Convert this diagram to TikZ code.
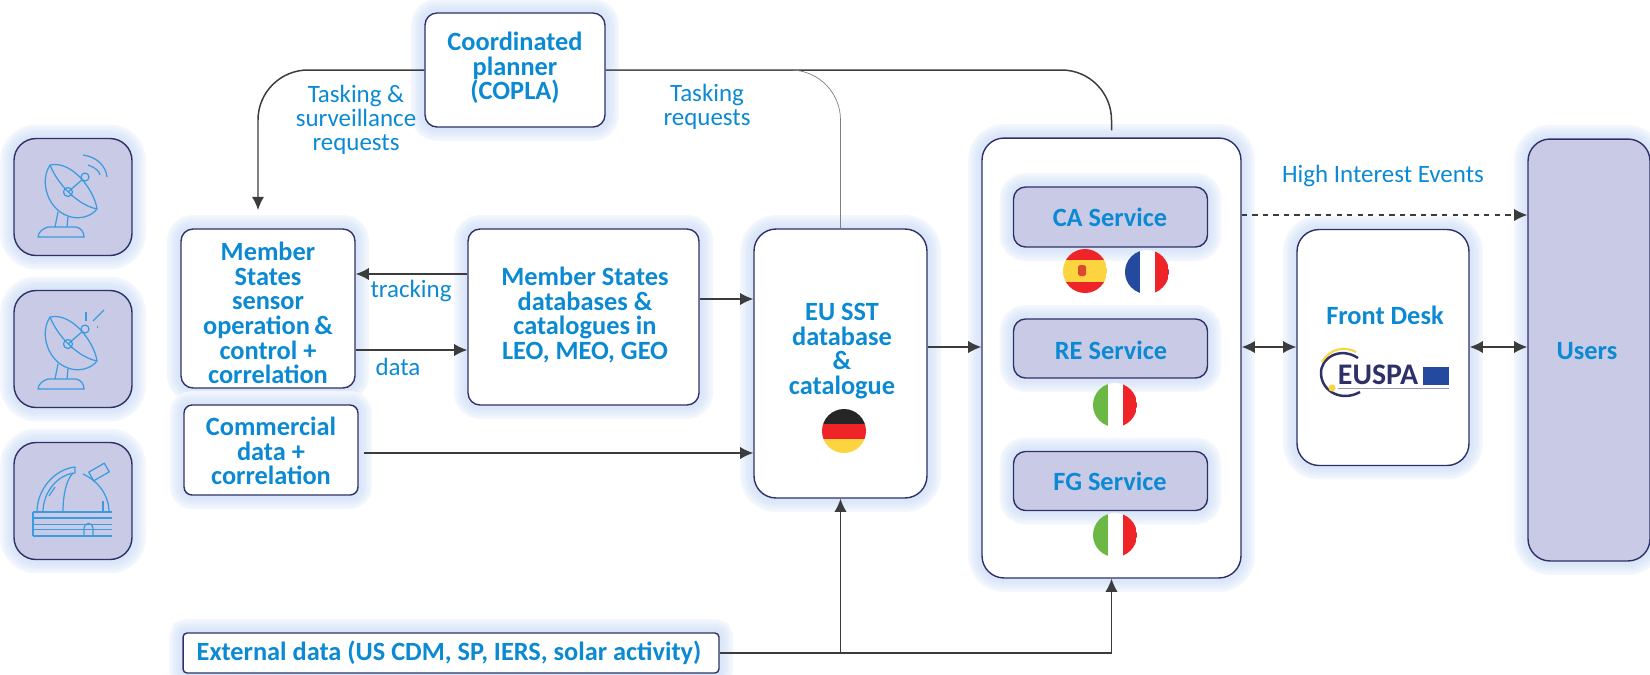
\documentclass[tikz,border=0pt]{standalone}
\usepackage{fontspec}
\setmainfont{Carlito}
\usepackage{xcolor}
\usepackage{tikz}
\usetikzlibrary{calc}
\usetikzlibrary{arrows.meta}
\usetikzlibrary{positioning}

\definecolor{textblue}{HTML}{0B8AD3}
\definecolor{iconblue}{HTML}{3A9BE0}
\definecolor{boxline}{HTML}{2E3168}
\definecolor{boxfill}{HTML}{C9CAE6}
\definecolor{haloa}{HTML}{F3F7FD}
\definecolor{halob}{HTML}{EBF2FC}
\definecolor{haloc}{HTML}{E4EDFA}
\definecolor{halod}{HTML}{DFE9F9}
\definecolor{haloe}{HTML}{DBE7F8}
\definecolor{linkgray}{HTML}{3C3C3C}
\definecolor{flaggreen}{HTML}{6BB845}
\definecolor{flagred}{HTML}{EE2428}
\definecolor{flagblue}{HTML}{234A9F}
\definecolor{flagyellow}{HTML}{FCD440}

\tikzset{
    halo/.style={
        preaction={draw=haloa, line width=0.56cm},
        preaction={draw=halob, line width=0.46cm},
        preaction={draw=haloc, line width=0.36cm},
        preaction={draw=halod, line width=0.26cm},
        preaction={draw=haloe, line width=0.16cm}
    },
    box/.style={halo, draw=boxline, line width=0.8pt, fill=white, rectangle, rounded corners=0.24cm, inner sep=0pt},
    purplebox/.style={box, fill=boxfill},
    title/.style={align=center, text=textblue, inner sep=0pt, font=\fontsize{15}{14}\selectfont\bfseries},
    note/.style={align=center, text=textblue, inner sep=0pt, font=\fontsize{14.2}{13.6}\selectfont},
    link/.style={draw=linkgray, line width=0.85pt, >={Latex[length=7.5pt,width=7pt]}},
    icon/.style={draw=iconblue, line width=0.7pt, line join=round}
}

% flags with three bands
\newcommand{\vflag}[5]{
    \begin{scope}
    \clip (#1,#2) circle (22);
    \fill[#3] (#1-22,#2-22) rectangle (#1-7.5,#2+22);
    \fill[#4] (#1-7.5,#2-22) rectangle (#1+7.5,#2+22);
    \fill[#5] (#1+7.5,#2-22) rectangle (#1+22,#2+22);
    \end{scope}
}
\newcommand{\hflag}[6]{
    \begin{scope}
    \clip (#1,#2) circle (22);
    \fill[#3] (#1-22,#2-22) rectangle (#1+22,#2-#6);
    \fill[#4] (#1-22,#2-#6) rectangle (#1+22,#2+#6);
    \fill[#5] (#1-22,#2+#6) rectangle (#1+22,#2+22);
    \end{scope}
}
\newcommand{\dishbody}{
    \draw[icon] (-23,-32) .. controls (-34,-15) and (-25,12) .. (-5,19) .. controls (5,23) and (18,20) .. (24,12);
    \draw[icon] (24,12) .. controls (22,-5) and (0,-37) .. (-23,-32);
    \draw[icon] (-23,-32) .. controls (-15,-12) and (5,8) .. (24,12);
    \draw[icon] (-5,-5) -- (10,-18);
    \draw[icon] (12,-20) circle (4);
    \draw[icon] (-5,-5) circle (4.5);
    \draw[icon] (-15,15) -- (-18,30);
    \draw[icon] (-5,20) -- (-6,30);
    \draw[icon] (-35,40) .. controls (-34,33) and (-28,31) .. (-25,30) -- (3,30) .. controls (8,31) and (11,35) .. (11,40) -- cycle;
}

\begin{document}
\begin{tikzpicture}[x=0.02cm, y=-0.02cm]
    \useasboundingbox (0,0) rectangle (1650,674);

    \node[purplebox, rounded corners=0.44cm, minimum width=2.36cm, minimum height=2.34cm] (antenna) at (73,197) {};
    \node[purplebox, rounded corners=0.44cm, minimum width=2.36cm, minimum height=2.34cm] (radar) at (73,349) {};
    \node[purplebox, rounded corners=0.44cm, minimum width=2.36cm, minimum height=2.34cm] (telescope) at (73,501) {};

    \begin{scope}[shift={(73,197)}]
        \dishbody
        \draw[icon] (10,-42) .. controls (25,-40) and (33,-30) .. (34,-20);
        \draw[icon] (15,-32) .. controls (22,-30) and (27,-25) .. (27,-22);
    \end{scope}
    \begin{scope}[shift={(73,349)}]
        \dishbody
        \draw[icon] (13,-37) -- (13,-28);
        \draw[icon] (20,-28) -- (31,-39);
        \draw[icon] (24,-22) -- (25,-22);
    \end{scope}
    \begin{scope}[shift={(73,501)}]
        \draw[icon] (-40,11) -- (39,11);
        \draw[icon] (-40,17) -- (39,17);
        \draw[icon] (-40,35) -- (39,35);
        \draw[icon] (-40,11) -- (-40,35);
        \draw[icon, line width=0.3pt] (-40,23) -- (39,23);
        \draw[icon, line width=0.3pt] (-40,28) -- (39,28);
        \draw[icon] (11,35) -- (11,27) .. controls (11,21) and (20,21) .. (20,27) -- (20,35);
        \draw[icon] (-36,11) .. controls (-36,-12) and (-18,-32) .. (2,-34) -- (2,-28) .. controls (-14,-27) and (-30,-10) .. (-30,11);
        \draw[icon] (-10,11) .. controls (-10,-8) and (-6,-22) .. (0,-28);
        \draw[icon] (-24,-5) -- (-18,-14);
        \draw[icon] (10,-27) .. controls (25,-20) and (36,-6) .. (36,11);
        \draw[icon] (30,11) -- (30,0);
        \draw[icon, rotate around={30:(26,-29)}] (17,-34) rectangle (35,-24);
    \end{scope}

    \node[box, minimum width=3.6cm, minimum height=2.28cm] (copla) at (515,70) {};
    \node[title] (coplatext) at (515,68) {Coordinated\\planner\\(COPLA)};

    \node[box, minimum width=3.48cm, minimum height=3.18cm] (sensor) at (268,308.5) {};
    \node[title] (sensortext) at (268,313) {Member\\States\\sensor\\operation\,\&\\control +\\correlation};

    \node[box, rounded corners=0.16cm, minimum width=3.48cm, minimum height=1.8cm] (commercial) at (271,450) {};
    \node[title] (commercialtext) at (271,451) {Commercial\\data +\\correlation};

    \node[box, minimum width=4.62cm, minimum height=3.52cm] (db) at (583.5,317) {};
    \node[title] (dbtext) at (585,315) {Member States\\databases \&\\catalogues in\\LEO, MEO, GEO};

    \node[box, rounded corners=0.44cm, minimum width=3.46cm, minimum height=5.38cm] (eu) at (840.5,363.5) {};
    \node[title] (eutext) at (842,351) {EU SST\\database\\\&\\catalogue};

    \node[box, rounded corners=0.44cm, minimum width=5.18cm, minimum height=8.8cm] (large) at (1111.5,358) {};
    \node[purplebox, minimum width=3.88cm, minimum height=1.2cm] (ca) at (1110.5,217) {};
    \node[purplebox, minimum width=3.88cm, minimum height=1.18cm] (re) at (1110.5,348.5) {};
    \node[purplebox, minimum width=3.88cm, minimum height=1.18cm] (fg) at (1110.5,481) {};
    \node[title] (catext) at (1110,217) {CA Service};
    \node[title] (retext) at (1111,350) {RE Service};
    \node[title] (fgtext) at (1110,481) {FG Service};

    \node[box, rounded corners=0.44cm, minimum width=3.44cm, minimum height=4.72cm] (front) at (1383,347.5) {};
    \node[title] (fronttext) at (1385,315) {Front Desk};

    \node[purplebox, rounded corners=0.44cm, minimum width=2.44cm, minimum height=8.44cm] (users) at (1589,350) {};
    \node[title] (userstext) at (1587,351) {Users};

    \node[box, rounded corners=0.08cm, minimum width=10.72cm, minimum height=0.8cm] (external) at (451,653) {};
    \node[title] (externaltext) at (449,653) {External data (US CDM, SP, IERS, solar activity)};

    \vflag{1147}{272}{flagblue}{white}{flagred}
    \hflag{1085}{271}{flagred}{flagyellow}{flagred}{11}
    \fill[flagred!60!brown, rounded corners=1pt] (1078,265) rectangle (1086,276);
    \vflag{1115}{405}{flaggreen}{white}{flagred}
    \vflag{1115}{535}{flaggreen}{white}{flagred}
    \hflag{844}{431}{black!85}{flagred}{flagyellow}{7.5}

    % logo in the front desk
    \draw[boxline, line width=1.4pt] (1358,358) .. controls (1340,346) and (1320,358) .. (1321,374) .. controls (1322,392) and (1342,402) .. (1360,392);
    \draw[flagyellow, line width=1.2pt] (1322,362) .. controls (1330,348) and (1345,346) .. (1356,352);
    \fill[flagyellow] (1332,388) circle (3.5);
    \node[inner sep=0pt, text=boxline, font=\fontsize{17}{17}\selectfont\bfseries] (euspa) at (1378,375) {EUSPA};
    \fill[flagblue] (1423,367) rectangle (1449,385);
    \draw[boxline!50, line width=0.5pt] (1338,388) -- (1449,388);

    % connectors
    \coordinate (trackrow) at (0,274);
    \coordinate (datarow) at (0,350);
    \coordinate (feedrow) at (0,299);
    \coordinate (commrow) at (0,453);
    \coordinate (mainrow) at (0,347);
    \coordinate (eventrow) at (0,215);
    \coordinate (sensorin) at (258,210);

    \draw[link, ->, rounded corners=1cm] (copla.west) -| (sensorin);
    \draw[link, rounded corners=1cm, shorten >=4pt] (copla.east) -| (large.north);
    \draw[link, draw=gray, line width=0.4pt, rounded corners=1cm] (copla.east) -| (eu.north);
    \draw[link, ->] (db.west |- trackrow) -- (sensor.east |- trackrow);
    \draw[link, ->] (sensor.east |- datarow) -- (db.west |- datarow);
    \draw[link, ->] (db.east |- feedrow) -- (eu.west |- feedrow);
    \draw[link, ->, shorten <=3pt] (commercial.east |- commrow) -- (eu.west |- commrow);
    \draw[link, ->] (eu.east |- mainrow) -- (large.west |- mainrow);
    \draw[link, <->] (large.east |- mainrow) -- (front.west |- mainrow);
    \draw[link, <->] (front.east |- mainrow) -- (users.west |- mainrow);
    \draw[link, ->, dashed] (large.east |- eventrow) -- (users.west |- eventrow);
    \draw[link, ->] (external.east) -| (eu.south);
    \draw[link, ->] (external.east) -| (large.south);

    \node[note] (taskleft) at (356,120) {Tasking \&\\surveillance\\requests};
    \node[note] (taskright) at (707,107) {Tasking\\requests};
    \node[note] (tracking) at (411,291) {tracking};
    \node[note] (data) at (398,367) {data};
    \node[note] (events) at (1383,176) {High Interest Events};
\end{tikzpicture}
\end{document}
